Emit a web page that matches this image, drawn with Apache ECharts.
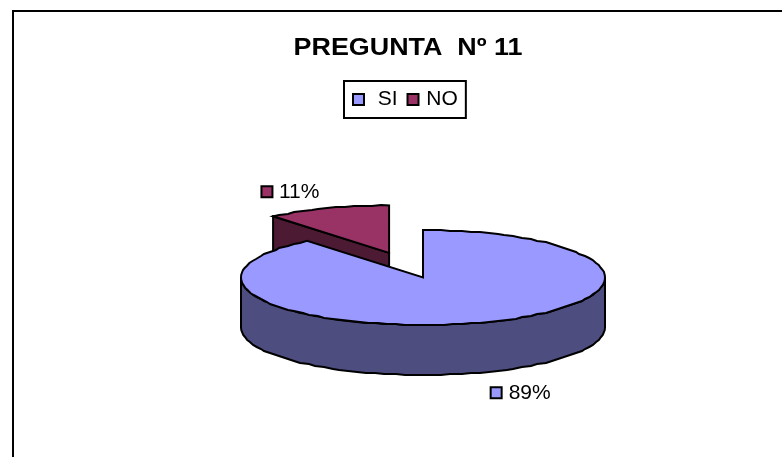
<!DOCTYPE html>
<html>
<head>
<meta charset="utf-8">
<style>html,body{margin:0;padding:0;background:#fff}#c{width:782px;height:457px}</style>
<script src="https://cdn.jsdelivr.net/npm/echarts@6/dist/echarts.min.js"></script>
</head>
<body>
<div id="c"></div>
<script>
const chartTitle = 'PREGUNTA  Nº 11';
const categories = ['SI', 'NO'];
const values = [89, 11];
const labels = ['89%', '11%'];
const topColors = ['#9999FF', '#993366'];
const wallColors = ['#4D4D80', '#4D1A33'];
const explode = [0, 0.55];

const FONT = '"Liberation Sans", Arial, sans-serif';
const CX = 423, CY = 277.5, RX = 182, RY = 47.5, DEPTH = 50;
const total = values.reduce((a, b) => a + b, 0);
const snapX = v => Math.round(v / 3) * 3;

function pt(c, a) { return [c[0] + RX * Math.sin(a), c[1] - RY * Math.cos(a)]; }
function arc(c, a0, a1, dy) {
  const n = Math.max(2, Math.ceil(Math.abs(a1 - a0) / (Math.PI / 60)));
  const out = [];
  for (let i = 0; i <= n; i++) {
    const p = pt(c, a0 + (a1 - a0) * i / n);
    const edge = i === 0 || i === n;
    out.push(edge ? [p[0], p[1] + dy] : [Math.abs(Math.sin(a0 + (a1 - a0) * i / n)) > 0.9 ? p[0] : snapX(p[0]), Math.round(p[1]) + dy]);
  }
  return out;
}

function makeRender(index) {
  return function (params, api) {
    const before = values.slice(0, index).reduce((a, b) => a + b, 0);
    const a0 = before / total * 2 * Math.PI;
    const a1 = a0 + api.value(0) / total * 2 * Math.PI;
    const mid = (a0 + a1) / 2;
    const e = explode[index];
    const c = [CX + e * RX * Math.sin(mid), CY - e * RY * Math.cos(mid)];
    const line = { stroke: '#000', lineWidth: 2, lineJoin: 'miter' };
    const kids = [];
    const wall = wallColors[index], top = topColors[index];

    // outer rim wall: the part of the arc that faces the viewer
    const f0 = Math.max(a0, Math.PI / 2), f1 = Math.min(a1, Math.PI * 1.5);
    if (f1 > f0) {
      const upper = arc(c, f0, f1, 0), lower = arc(c, f0, f1, DEPTH);
      kids.push({ type: 'polygon', shape: { points: upper.concat(lower.reverse()) },
        style: Object.assign({ fill: wall }, line) });
    }
    // cut wall of the exploded slice
    if (e > 0) {
      const p = pt(c, a0);
      kids.push({ type: 'polygon',
        shape: { points: [p, c, [c[0], c[1] + DEPTH], [p[0], p[1] + DEPTH]] },
        style: Object.assign({ fill: wall }, line) });
    }
    // top face
    kids.push({ type: 'polygon',
      shape: { points: [c].concat(arc(c, a0, a1, 0)) },
      style: Object.assign({ fill: top }, line) });

    // data label with legend key
    const anchor = pt(c, mid);
    const left = Math.sin(mid) < 0;
    const up = Math.cos(mid) > 0;
    const ly = up ? anchor[1] - 16 : anchor[1] + DEPTH + 21;
    const tx = left ? anchor[0] - 8 : anchor[0] + 24;
    kids.push({ type: 'text', z2: 5, style: { x: tx, y: ly, text: labels[index],
      fill: '#000', font: '21px ' + FONT, align: left ? 'right' : 'left', verticalAlign: 'middle' } });
    const kx = left ? tx - 58 : tx - 18;
    kids.push({ type: 'rect', z2: 5, shape: { x: kx, y: ly - 6, width: 11, height: 11 },
      style: Object.assign({ fill: top }, line) });
    return { type: 'group', children: kids };
  };
}

const chart = echarts.init(document.getElementById('c'), null, { renderer: 'canvas' });
chart.setOption({
  animation: false,
  backgroundColor: '#fff',
  legend: {
    data: categories, left: 344, top: 81, orient: 'horizontal',
    padding: [8, 8, 8, 8], itemGap: 9, itemWidth: 11, itemHeight: 11,
    borderColor: '#000', borderWidth: 2, backgroundColor: '#fff',
    icon: 'rect', itemStyle: { borderColor: '#000', borderWidth: 2 },
    formatter: n => n === 'SI' ? '  SI' : ' ' + n,
    textStyle: { fontFamily: FONT, fontSize: 21, color: '#000', padding: [0, 0, 0, -3] },
    selectedMode: false
  },
  graphic: [{
    type: 'polyline', silent: true,
    shape: { points: [[13, 457], [13, 11], [782, 11]] },
    style: { fill: null, stroke: '#000', lineWidth: 2 }
  }, {
    type: 'text', silent: true, x: 408, y: 48, scaleX: 1.12, scaleY: 1,
    style: { text: chartTitle, fill: '#000', font: 'bold 24px ' + FONT, align: 'center', verticalAlign: 'middle' }
  }],
  series: categories.map((name, i) => ({
    type: 'custom', name, coordinateSystem: 'none', z: i === 0 ? 3 : 2,
    itemStyle: { color: topColors[i] },
    renderItem: makeRender(i),
    data: [[values[i]]], silent: true
  }))
});
</script>
</body>
</html>
